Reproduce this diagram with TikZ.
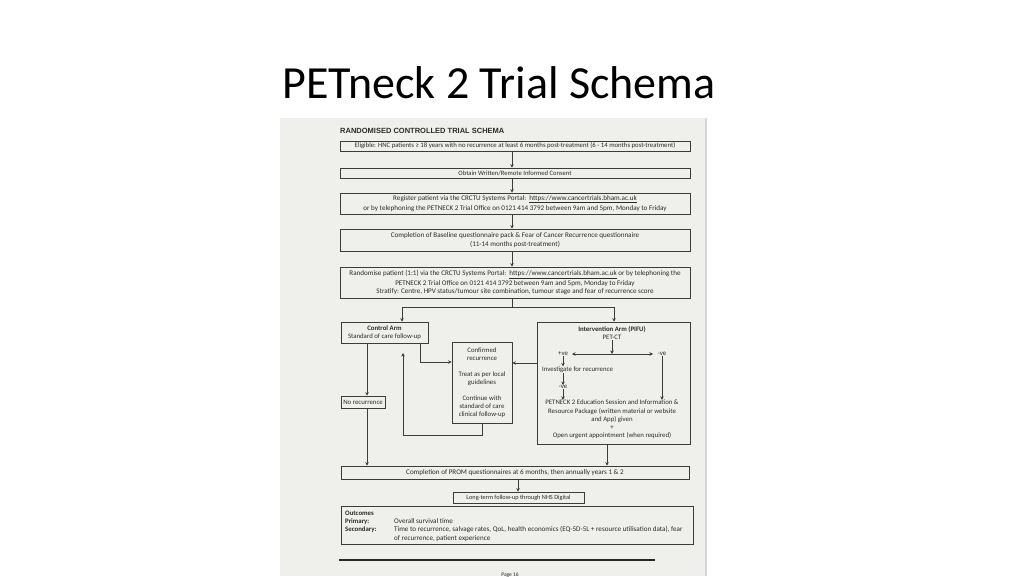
\documentclass[tikz,border=0pt]{standalone}
\usepackage{fontspec}
\setmainfont{Carlito}
\newfontfamily\hdfont{Liberation Sans}
\usetikzlibrary{arrows.meta,calc}
\definecolor{pagec}{HTML}{EFEFEC}
\definecolor{edgec}{HTML}{D6D6D6}
\definecolor{inkc}{HTML}{3C3C3C}
\definecolor{txtc}{HTML}{2B2B2B}
\begin{document}
\begin{tikzpicture}[x=1pt,y=-1pt,
  sc/.style={font=\fontsize{6.8}{8}\selectfont},
  big/.style={font=\fontsize{7.1}{8}\selectfont},
  box/.style={draw=inkc, line width=0.7pt, inner sep=0pt, align=center, text=txtc, sc},
  txt/.style={inner sep=0pt, align=center, text=txtc, sc},
  ln/.style={draw=inkc, line width=0.7pt},
  arr/.style={draw=inkc, line width=0.7pt, -{Stealth[length=3.5pt,width=3.5pt]}},
  dbl/.style={draw=inkc, line width=0.7pt, {Stealth[length=3.5pt,width=3.5pt]}-{Stealth[length=3.5pt,width=3.5pt]}}
]
\useasboundingbox (0,0) rectangle (1024,576);
\fill[white] (0,0) rectangle (1024,576);
% title
\node[anchor=base, inner sep=0pt, font=\fontsize{46}{50}\selectfont, text=black] (title) at (499,98) {PETneck 2 Trial Schema};
% scanned page
\fill[pagec] (280,118) rectangle (705,576);
\fill[edgec] (705,118) rectangle (707,576);
\node[anchor=base west, inner sep=0pt, font=\hdfont\bfseries\fontsize{7.5}{8}\selectfont, text=txtc] (head) at (340,133) {RANDOMISED CONTROLLED TRIAL SCHEMA};

\node[box, font=\fontsize{6.75}{8}\selectfont, minimum width=350pt, minimum height=10pt] (b1) at (515,146) {Eligible: HNC patients ≥ 18 years with no recurrence at least 6 months post-treatment (6 - 14 months post-treatment)};
\node[box, font=\fontsize{6.6}{8}\selectfont, minimum width=350pt, minimum height=10pt] (b2) at (515,173) {Obtain Written/Remote Informed Consent};
\node[box, font=\fontsize{7.1}{10.5}\selectfont, minimum width=350pt, minimum height=21pt] (b3) at (515,203.5) {Register patient via the CRCTU Systems Portal:\ \ \underline{https://www.cancertrials.bham.ac.uk}\\or by telephoning the PETNECK 2 Trial Office on 0121 414 3792 between 9am and 5pm, Monday to Friday};
\node[box, font=\fontsize{7.1}{9}\selectfont, minimum width=350pt, minimum height=22pt] (b4) at (515,240) {Completion of Baseline questionnaire pack \& Fear of Cancer Recurrence questionnaire\\(11-14 months post-treatment)};
\node[box, big, minimum width=350pt, minimum height=31pt] (b5) at (515,282.5) {Randomise patient (1:1) via the CRCTU Systems Portal:\ \ \underline{https://www.cancertrials.bham.ac.uk} or by telephoning the\\PETNECK 2 Trial Office on 0121 414 3792 between 9am and 5pm, Monday to Friday\\Stratify: Centre, HPV status/tumour site combination, tumour stage and fear of recurrence score};

\coordinate (ax) at (512,0);
\draw[arr] (b1.south -| ax) -- (b2.north -| ax);
\draw[arr] (b2.south -| ax) -- (b3.north -| ax);
\draw[arr] (b3.south -| ax) -- (b4.north -| ax);
\draw[arr] (b4.south -| ax) -- (b5.north -| ax);

\node[box, minimum width=87pt, minimum height=21pt] (ctrl) at (384.5,332.5) {\textbf{Control Arm}\\Standard of care follow-up};
\node[box, minimum width=60pt, minimum height=81pt] (conf) at (482,382.5) {Confirmed\\recurrence\\[8pt]Treat as per local\\guidelines\\[8pt]Continue with\\standard of care\\clinical follow-up};
\node[box, minimum width=153pt, minimum height=122pt] (intv) at (613.5,383) {};
\node[box, minimum width=44pt, minimum height=12pt] (norec) at (363,402) {No recurrence};

% split
\coordinate (sp) at (512,307);
\coordinate (spl) at (402,307);
\coordinate (spr) at (614,307);
\draw[ln] (b5.south -| ax) -- (sp);
\draw[ln] (spl) -- (spr);
\draw[arr] (spl) -- (ctrl.north -| spl);
\draw[arr] (spr) -- (intv.north -| spr);

% control side
\coordinate (cx) at (367,0);
\draw[arr] (ctrl.south -| cx) -- (norec.north -| cx);
\coordinate (c2) at (420,362);
\draw[arr] (ctrl.south -| c2) -- (c2) -- (conf.west |- c2);
\coordinate (r1) at (482,435);
\coordinate (r2) at (403,435);
\coordinate (r3) at (403,353);
\draw[arr] (conf.south) -- (r1) -- (r2) -- (r3);
\coordinate (iy) at (0,363);
\draw[arr] (intv.west |- iy) -- (conf.east |- iy);

% intervention inside
\node[txt, font=\bfseries\fontsize{6.8}{8}\selectfont] (iarm) at (612,329) {Intervention Arm (PIFU)};
\node[txt] (pet) at (612,337.5) {PET-CT};
\coordinate (hj) at (612,354);
\draw[arr] (pet.south) -- (hj);
\node[txt] (pos) at (563,354) {+ve};
\node[txt] (neg) at (662,354) {-ve};
\coordinate (hl) at (572,354);
\coordinate (hr) at (653,354);
\draw[dbl] (hl) -- (hr);
\node[txt, anchor=west] (inv) at (542,369.5) {Investigate for recurrence};
\draw[arr] (pos.south) -- (pos.south |- inv.north);
\node[txt] (neg2) at (563,387) {-ve};
\draw[arr] (inv.south -| pos) -- (neg2.north);
\node[txt, font=\fontsize{6.8}{8.25}\selectfont] (edu) at (612,419.5) {PETNECK 2 Education Session and Information \&\\Resource Package (written material or website\\and App) given\\+\\Open urgent appointment (when required)};
\draw[arr] (neg2.south) -- (neg2.south |- edu.north);
\draw[arr] (neg.south) -- (neg.south |- edu.north);

% bottom
\node[box, big, minimum width=348pt, minimum height=13pt] (prom) at (515,472.5) {Completion of PROM questionnaires at 6 months, then annually years 1 \& 2};
\draw[arr] (norec.south -| cx) -- (prom.north -| cx);
\coordinate (ix) at (607,0);
\draw[arr] (intv.south -| ix) -- (prom.north -| ix);
\node[box, font=\fontsize{6.3}{8}\selectfont, minimum width=131pt, minimum height=11pt] (nhs) at (518.5,497.5) {Long-term follow-up through NHS Digital};
\coordinate (nx) at (518,0);
\draw[arr] (prom.south -| nx) -- (nhs.north -| nx);

\node[box, minimum width=352pt, minimum height=38pt] (outc) at (517,525) {};
\node[txt, anchor=base west, font=\bfseries\fontsize{6.8}{8}\selectfont] (o1) at (345,515.5) {Outcomes};
\node[txt, anchor=base west, font=\bfseries\fontsize{6.8}{8}\selectfont] (o2) at (345,523.5) {Primary:};
\node[txt, anchor=base west, font=\bfseries\fontsize{6.8}{8}\selectfont] (o3) at (345,531.8) {Secondary:};
\node[txt, anchor=base west, big] (o4) at (394,523.5) {Overall survival time};
\node[txt, anchor=base west, big] (o5) at (394,531.8) {Time to recurrence, salvage rates, QoL, health economics (EQ-5D-5L + resource utilisation data), fear};
\node[txt, anchor=base west, big] (o6) at (394,540.2) {of recurrence, patient experience};

\draw[draw=black!85, line width=1.4pt] (339,560) -- (655,560);
\node[txt, font=\fontsize{5.5}{6}\selectfont] (pg) at (510,575) {Page 16};
\end{tikzpicture}
\end{document}
